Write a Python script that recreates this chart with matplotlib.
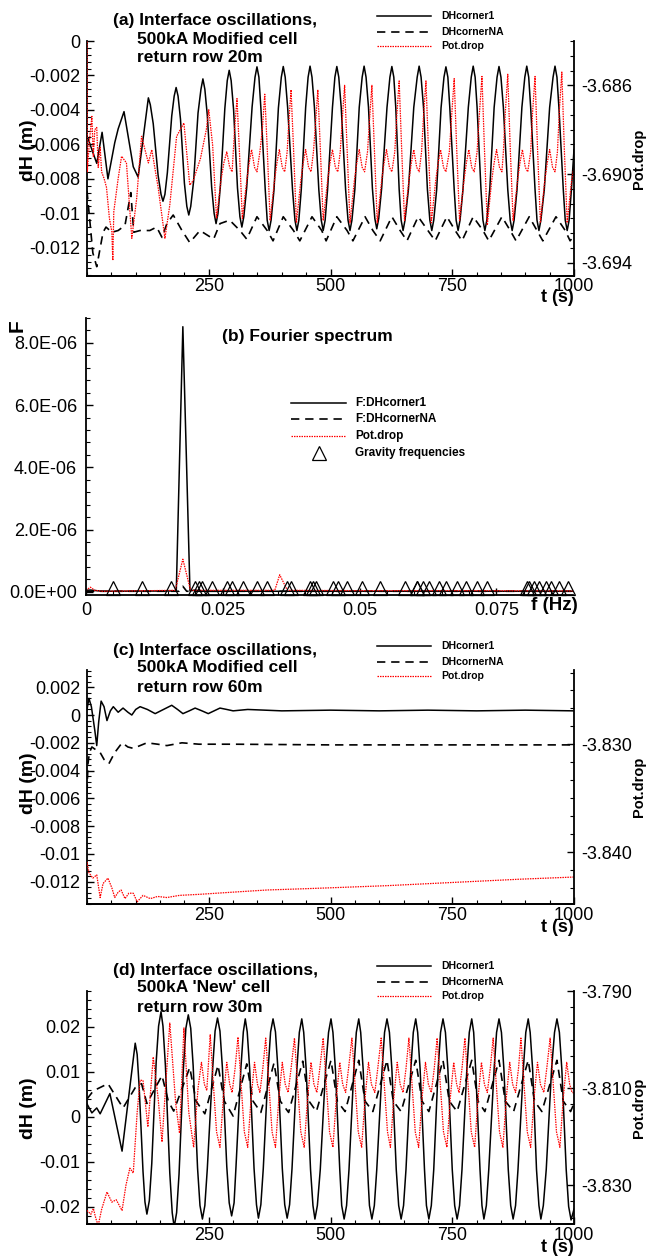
import numpy as np
import matplotlib
matplotlib.use('Agg')
import matplotlib.pyplot as plt
from matplotlib.lines import Line2D
from matplotlib.ticker import MultipleLocator, FuncFormatter

plt.rcParams['font.family'] = ['Liberation Sans', 'DejaVu Sans']

# ---- (a) return row 20m ----
a_t1 = [0, 20, 31, 43, 57, 64, 76, 95, 100, 105,
        126, 130, 136, 146, 152, 156, 160, 165, 174, 179, 183, 187, 192, 200, 205, 209,
        213, 219, 228, 234, 238, 242, 247, 256, 261, 265, 269, 274, 283, 288, 292, 296,
        301, 309, 314, 318, 322, 328, 339, 345, 349, 353, 357, 366, 370, 374, 378, 384,
        393, 399, 403, 407, 412, 422, 427, 431, 435, 440, 449, 454, 458, 462, 467, 476,
        481, 485, 489, 494, 504, 509, 513, 517, 522, 531, 536, 540, 544, 550, 559, 565,
        569, 573, 578, 586, 591, 595, 599, 605, 616, 622, 626, 630, 634, 641, 645, 649,
        653, 660, 671, 678, 682, 686, 691, 699, 704, 708, 712, 718, 727, 733, 737, 741,
        745, 754, 758, 762, 766, 772, 783, 789, 793, 797, 801, 809, 813, 817, 821, 827,
        836, 842, 846, 850, 855, 864, 869, 873, 877, 883, 893, 899, 903, 907, 911, 920,
        924, 928, 932, 939, 950, 957, 961, 965, 969, 978, 982, 986, 990, 995, 1000]
a_dh1 = [-0.0055, -0.0071, -0.0053, -0.0080, -0.0059, -0.0051, -0.0041, -0.0073, -0.0076,
         -0.0079,
         -0.0033, -0.0037, -0.0048, -0.0078, -0.0089, -0.0093, -0.0089, -0.00765, -0.00435,
         -0.0032, -0.0027, -0.0032, -0.00455, -0.00825, -0.0096, -0.0101, -0.0096, -0.00812,
         -0.00418, -0.0028, -0.0022, -0.0028, -0.0043, -0.0085, -0.0100, -0.0106, -0.0100,
         -0.00838, -0.00393, -0.0023, -0.0017, -0.0023, -0.00398, -0.00853, -0.0102, -0.0108,
         -0.0102, -0.00848, -0.00383, -0.0021, -0.0015, -0.0021, -0.00388, -0.00863, -0.0104,
         -0.0110, -0.0104, -0.00863, -0.00389, -0.0021, -0.00148, -0.0021, -0.00386, -0.00863,
         -0.0104, -0.0110, -0.0104, -0.00862, -0.00385, -0.0021, -0.00146, -0.0021, -0.00385,
         -0.00862, -0.0104, -0.0110, -0.0104, -0.00862, -0.00386, -0.0021, -0.00148, -0.0021,
         -0.00386, -0.00862, -0.0104, -0.0110, -0.0104, -0.00862, -0.00385, -0.0021, -0.00146,
         -0.0021, -0.00384, -0.00854, -0.0103, -0.0109, -0.0103, -0.00855, -0.00386, -0.0021,
         -0.00148, -0.0021, -0.00385, -0.00862, -0.0104, -0.0110, -0.0104, -0.00862, -0.00385,
         -0.0021, -0.00146, -0.0021, -0.00385, -0.00862, -0.0104, -0.0110, -0.0104, -0.00862,
         -0.00388, -0.0021, -0.0015, -0.0021, -0.00388, -0.00862, -0.0104, -0.0110, -0.0104,
         -0.00862, -0.00385, -0.0021, -0.00146, -0.0021, -0.00385, -0.00862, -0.0104, -0.0110,
         -0.0104, -0.00862, -0.00386, -0.0021, -0.00148, -0.0021, -0.00386, -0.00862, -0.0104,
         -0.0110, -0.0104, -0.00862, -0.00385, -0.0021, -0.00146, -0.0021, -0.00385, -0.00862,
         -0.0104, -0.0110, -0.0104, -0.00862, -0.00385, -0.0021, -0.00146, -0.0021, -0.00385,
         -0.00862, -0.0104, -0.0110, -0.0104, -0.0085, -0.0063]
a_t2 = [0, 12, 20, 33, 39, 51, 64, 78, 90, 96, 109, 129, 143, 154, 164, 177, 195, 211,
        232, 260, 273, 293, 314, 328, 349, 370, 382, 403, 424, 437, 462, 482, 491, 513,
        534, 546, 571, 587, 602, 626, 643, 657, 680, 700, 715, 739, 756, 770, 793, 813,
        825, 852, 869, 881, 908, 924, 936, 963, 982, 992, 1000]
a_dh2 = [-0.0087, -0.0123, -0.0131, -0.0111, -0.0108, -0.0111, -0.0110, -0.0107, -0.0088,
         -0.0111, -0.0110, -0.0110, -0.0108, -0.0114, -0.0106, -0.0101, -0.0110, -0.0117,
         -0.0110, -0.0115, -0.0106, -0.0104, -0.0110, -0.0115, -0.0102, -0.0110, -0.0116,
         -0.0102, -0.0110, -0.0116, -0.0102, -0.0110, -0.0116, -0.0102, -0.0110, -0.0116,
         -0.0102, -0.0110, -0.0116, -0.0102, -0.0110, -0.0116, -0.0102, -0.0110, -0.0116,
         -0.0102, -0.0110, -0.0116, -0.0102, -0.0110, -0.0116, -0.0102, -0.0110, -0.0116,
         -0.0102, -0.0110, -0.0116, -0.0102, -0.0110, -0.0116, -0.0113]
a_t3 = [0, 0.6, 5, 10, 13, 16, 20, 23, 27, 30, 35, 40, 46, 51, 53, 55, 64, 71, 81, 92,
        102, 112, 126, 133, 146, 160, 170, 184, 199, 211, 218, 233, 245, 250, 258, 266,
        275, 281, 287, 293, 298, 303, 308, 313, 319, 328, 333, 338, 344, 349, 355,
        360, 365, 370, 376, 385, 390, 395, 401, 406, 411,
        414, 419, 424, 430, 439, 444, 449, 455, 460, 465,
        469, 474, 479, 485, 494, 499, 504, 510, 515, 520,
        524, 529, 534, 540, 549, 554, 559, 565, 570, 576,
        580, 585, 590, 596, 605, 610, 615, 621, 626, 632,
        636, 641, 646, 652, 661, 666, 671, 677, 682, 687,
        691, 696, 701, 707, 716, 721, 726, 732, 737, 744,
        749, 754, 759, 765, 774, 779, 784, 790, 795, 801,
        806, 811, 816, 822, 831, 836, 841, 847, 852, 855,
        859, 864, 869, 875, 884, 889, 894, 900, 905, 911,
        915, 920, 925, 931, 940, 945, 950, 956, 961, 966,
        970, 975, 980, 986, 995, 1000]
a_pot = [-3.6838, -3.6899, -3.6885, -3.6874, -3.6892, -3.6880, -3.6879, -3.6897, -3.6888,
         -3.6899, -3.6902, -3.6906, -3.6920, -3.6926, -3.6939, -3.6917, -3.6902, -3.6892,
         -3.6895, -3.6929, -3.6911, -3.6883, -3.6895, -3.6889, -3.6906, -3.6929, -3.6914,
         -3.6883, -3.6877, -3.6905, -3.6903, -3.6893, -3.6880, -3.6871, -3.6887, -3.6920,
         -3.6903, -3.6895, -3.6890, -3.6897, -3.6899, -3.6880, -3.6866, -3.6890, -3.6920,
         -3.6903, -3.6895, -3.6889, -3.6897, -3.6899, -3.6890,
         -3.6880, -3.6864, -3.6888, -3.6921, -3.6903, -3.6895, -3.6889, -3.6897, -3.6899,
         -3.6890,
         -3.6878, -3.6862, -3.6888, -3.6922, -3.6903, -3.6895, -3.6889, -3.6897, -3.6899,
         -3.6890,
         -3.6878, -3.6862, -3.6888, -3.6921, -3.6903, -3.6895, -3.6889, -3.6897, -3.6899,
         -3.6890,
         -3.6876, -3.6860, -3.6888, -3.6922, -3.6903, -3.6895, -3.6889, -3.6897, -3.6899,
         -3.6890,
         -3.6876, -3.6860, -3.6888, -3.6922, -3.6903, -3.6895, -3.6889, -3.6897, -3.6899,
         -3.6890,
         -3.6874, -3.6858, -3.6888, -3.6921, -3.6903, -3.6895, -3.6889, -3.6897, -3.6899,
         -3.6890,
         -3.6874, -3.6858, -3.6888, -3.6922, -3.6903, -3.6895, -3.6889, -3.6897, -3.6899,
         -3.6890,
         -3.6873, -3.6857, -3.6888, -3.6921, -3.6903, -3.6895, -3.6889, -3.6897, -3.6899,
         -3.6890,
         -3.6872, -3.6856, -3.6888, -3.6923, -3.6903, -3.6895, -3.6889, -3.6897, -3.6899,
         -3.6890,
         -3.6872, -3.6855, -3.6888, -3.6921, -3.6903, -3.6895, -3.6889, -3.6897, -3.6899,
         -3.6890,
         -3.6872, -3.6856, -3.6888, -3.6922, -3.6903, -3.6895, -3.6889, -3.6897, -3.6899,
         -3.6890,
         -3.6871, -3.6854, -3.6888, -3.6922, -3.6903, -3.6897]

# ---- (b) Fourier spectrum ----
b_f1 = [0, 0.0008, 0.003, 0.0165, 0.0177, 0.0190, 0.020, 0.021, 0.030, 0.045, 0.060, 0.075, 0.089]
b_F1 = [5e-8, 6e-8, 2e-8, 3e-8, 8.52e-6, 3e-8, 6e-8, 2e-8, 2e-8, 2e-8, 2e-8, 2e-8, 2e-8]
b_f2 = [0, 0.0170, 0.0177, 0.0184, 0.089]
b_F2 = [2e-8, 2e-8, 1.8e-7, 2e-8, 2e-8]
b_f3 = [0, 0.0008, 0.0016, 0.003, 0.0163, 0.0177, 0.0191, 0.0345, 0.0354, 0.0368,
        0.050, 0.070, 0.089]
b_F3 = [5e-8, 1.5e-7, 5e-8, 2e-8, 5e-8, 1.05e-6, 5e-8, 5e-8, 5.5e-7, 5e-8, 4e-8, 4e-8, 3e-8]
grav_f = [0.00493, 0.01022, 0.01551, 0.01989, 0.02062, 0.02117, 0.02299, 0.02573, 0.02664,
          0.02865, 0.03120, 0.03303, 0.03668, 0.03741, 0.04088, 0.04142, 0.04197, 0.04507,
          0.04599, 0.04763, 0.05036, 0.05365, 0.05821, 0.06040, 0.06058, 0.06150, 0.06277,
          0.06460, 0.06588, 0.06788, 0.06953, 0.07153, 0.07336, 0.08066, 0.08102, 0.08193,
          0.08285, 0.08412, 0.08504, 0.08650, 0.08814]
grav_F = [1.2e-7] * len(grav_f)

# ---- (c) return row 60m ----
c_t1 = [0, 4, 9, 16, 20, 24, 29, 35, 41, 48, 54, 64, 74, 84, 92, 100, 109, 124, 140, 157,
        174, 186, 197, 210, 222, 236, 249, 261, 273, 287, 300, 330, 400, 500, 600, 700,
        800, 900, 1000]
c_dh1 = [0.0004, 0.0012, 0.0006, -0.0011, -0.0022, -0.0005, 0.0010, 0.0006, -0.0004,
         0.0003, 0.0006, 0.0002, 0.0005, 0.0002, 0.0, 0.0004, 0.0006, 0.0004, 0.0001,
         0.0004, 0.0007, 0.0004, 0.0001, 0.0003, 0.0005, 0.0003, 0.0001, 0.0003, 0.0005,
         0.0004, 0.0003, 0.0004, 0.0003, 0.00035, 0.0003, 0.00035, 0.0003, 0.00035, 0.0003]
c_t2 = [0, 2, 5, 10, 18, 27, 35, 45, 57, 72, 84, 95, 109, 123, 145, 164, 195, 230, 300,
        500, 700, 1000]
c_dh2 = [-0.0056, -0.0035, -0.0027, -0.0023, -0.0025, -0.0027, -0.0032, -0.0035, -0.0027,
         -0.0020, -0.0023, -0.0024, -0.0022, -0.0020, -0.0021, -0.0022, -0.0020, -0.0021,
         -0.0021, -0.00215, -0.00215, -0.00215]
c_t3 = [0, 4, 12, 20, 27, 33, 43, 51, 57, 64, 70, 78, 86, 95, 103, 115, 130, 145, 164,
        190, 232, 300, 370, 437, 499, 616, 752, 889, 1000]
c_pot = [-3.8409, -3.8419, -3.8424, -3.8421, -3.8442, -3.8429, -3.8424, -3.8433, -3.8442,
         -3.8437, -3.8435, -3.8443, -3.8438, -3.8438, -3.8446, -3.8440, -3.8443, -3.8441,
         -3.8442, -3.8440, -3.8439, -3.8437, -3.8435, -3.8434, -3.8433, -3.8431, -3.8428,
         -3.8425, -3.8423]

# ---- (d) 'New' cell, return row 30m ----
d_t1 = [0, 10, 20, 27, 47, 72,
        99, 103, 107, 115, 119, 123, 128, 133, 142, 147, 152, 156, 161, 170, 175, 179, 184,
        189, 198, 203, 208, 213, 218, 227, 232, 237, 242, 247, 258, 263, 268, 273, 278, 287,
        292, 297, 302, 306, 316, 321, 325, 329, 334, 343, 348, 352, 357, 362, 372, 377, 382,
        387, 392, 401, 406, 411, 416, 421, 431, 436, 441, 445, 450, 459, 464, 468, 473, 479,
        490, 496, 501, 505, 510, 519, 523, 528, 533, 538, 548, 553, 558, 562, 567, 576, 580,
        585, 590, 595, 606, 611, 616, 621, 626, 635, 640, 645, 650, 655, 665, 670, 675, 679,
        684, 693, 697, 702, 707, 712, 721, 726, 731, 736, 741, 750, 755, 760, 765, 770, 780,
        785, 790, 794, 798, 807, 811, 815, 820, 825, 836, 841, 846, 851, 856, 865, 870, 875,
        880, 885, 896, 901, 906, 910, 915, 923, 928, 932, 937, 943, 954, 960, 965, 970, 975,
        984, 989, 994, 1000]
d_dh1 = [0.0029, 0.0009, 0.0020, 0.0007, 0.0052, -0.0076,
         0.0164, 0.0139, 0.0069, -0.0121, -0.0189, -0.0216, -0.0186, -0.01035, 0.01215,
         0.0202, 0.0234, 0.0202, 0.0114, -0.0125, -0.0213, -0.0245, -0.0213, -0.0127, 0.0109,
         0.0197, 0.0227, 0.0197, 0.01135, -0.01135, -0.0197, -0.0227, -0.0197, -0.01158,
         0.01083, 0.0191, 0.0220, 0.0191, 0.0110, -0.0110, -0.0191, -0.0220, -0.0191,
         -0.01095, 0.01085, 0.0189, 0.0218, 0.0189, 0.01072, -0.01143, -0.0195, -0.0225,
         -0.0195, -0.01143, 0.01072, 0.0189, 0.0218, 0.0189, 0.01072, -0.01143, -0.0195,
         -0.0225, -0.0195, -0.01143, 0.01072, 0.0188, 0.0218, 0.0188, 0.01068, -0.01168,
         -0.0197, -0.0227, -0.0197, -0.01168, 0.01068, 0.0188, 0.0218, 0.0188, 0.01068,
         -0.01168, -0.0197, -0.0227, -0.0197, -0.01168, 0.01068, 0.0188, 0.0218, 0.0188,
         0.01068, -0.01168, -0.0197, -0.0227, -0.0197, -0.01168, 0.01068, 0.0188, 0.0218,
         0.0188, 0.01068, -0.01168, -0.0197, -0.0227, -0.0197, -0.01168, 0.01068, 0.0188,
         0.0218, 0.0188, 0.01068, -0.01168, -0.0197, -0.0227, -0.0197, -0.01168, 0.01068,
         0.0188, 0.0218, 0.0188, 0.01068, -0.01168, -0.0197, -0.0227, -0.0197, -0.01168,
         0.01068, 0.0188, 0.0218, 0.0188, 0.01068, -0.01168, -0.0197, -0.0227, -0.0197,
         -0.01168, 0.01068, 0.0188, 0.0218, 0.0188, 0.01068, -0.01168, -0.0197, -0.0227,
         -0.0197, -0.01168, 0.01068, 0.0188, 0.0218, 0.0188, 0.01068, -0.01168, -0.0197,
         -0.0227, -0.0197, -0.01168, 0.01068, 0.0188, 0.0218, 0.0188, 0.01063, -0.01173,
         -0.0199, -0.0229, -0.0205]
d_t2 = [0, 13, 43, 74, 99, 112, 123, 154, 167, 178, 211, 224, 242, 269, 282, 300, 328,
        341, 357, 384, 397, 414, 443, 456, 471, 501, 514, 530, 558, 571, 587, 616, 629,
        645, 675, 688, 702, 731, 744, 760, 790, 803, 817, 846, 859, 876, 906, 919, 934,
        965, 978, 993, 1000]
d_dh2 = [0.0040, 0.0058, 0.0074, 0.0020, 0.0065, 0.0074, 0.0030, 0.0092, 0.0035, 0.0013,
         0.0110, 0.0035, 0.0007, 0.0115, 0.0035, 0.0002, 0.0118, 0.0035, 0.0010, 0.0120,
         0.0035, 0.0010, 0.0124, 0.0035, 0.0012, 0.0126, 0.0035, 0.0012, 0.0126, 0.0035,
         0.0012, 0.0126, 0.0035, 0.0012, 0.0126, 0.0035, 0.0012, 0.0126, 0.0035, 0.0012,
         0.0126, 0.0035, 0.0012, 0.0126, 0.0035, 0.0012, 0.0126, 0.0035, 0.0012, 0.0126,
         0.0035, 0.0012, 0.0030]
d_t3 = [0, 8, 13, 18, 23, 30, 41, 51, 60, 68, 72, 80, 88, 95, 103, 109, 115, 125, 136,
        146, 154, 170, 182, 190, 199, 209, 219, 228, 235, 241, 246,
        253, 260, 266, 273, 280, 287, 293, 298, 304,
        310, 317, 323, 330, 337, 344, 350, 355, 361,
        367, 374, 380, 387, 394, 401, 407, 413, 419,
        426, 433, 439, 446, 453, 460, 466, 472, 478,
        485, 492, 498, 505, 512, 519, 525, 531, 537,
        544, 551, 557, 564, 571, 578, 584, 591, 597,
        604, 611, 617, 623, 630, 637, 643, 649, 655,
        661, 668, 674, 681, 688, 695, 701, 707, 713,
        719, 726, 732, 739, 746, 753, 759, 764, 770,
        776, 783, 789, 796, 803, 810, 816, 822, 828,
        834, 841, 847, 854, 861, 868, 874, 880, 886,
        891, 898, 904, 911, 918, 925, 931, 938, 944,
        951, 958, 964, 971, 978, 985, 991, 996, 1000]
d_pot = [-3.8352, -3.8360, -3.8348, -3.8368, -3.8383, -3.8350, -3.8314, -3.8335, -3.8330,
         -3.8345, -3.8352, -3.8300, -3.8265, -3.8275, -3.8150, -3.8084, -3.8084, -3.8180,
         -3.8036, -3.8120, -3.8211, -3.7966, -3.8130, -3.8193, -3.7976, -3.8150, -3.8222,
         -3.8100, -3.8047, -3.8092, -3.8105,
         -3.7990, -3.8100, -3.8190, -3.8222, -3.8120, -3.8047, -3.8092, -3.8109, -3.8060,
         -3.7995, -3.8100, -3.8190, -3.8222, -3.8120, -3.8047, -3.8092, -3.8109, -3.8060,
         -3.7997, -3.8100, -3.8190, -3.8222, -3.8120, -3.8047, -3.8092, -3.8109, -3.8060,
         -3.7997, -3.8100, -3.8190, -3.8222, -3.8120, -3.8047, -3.8092, -3.8109, -3.8060,
         -3.7997, -3.8100, -3.8190, -3.8222, -3.8120, -3.8047, -3.8092, -3.8109, -3.8060,
         -3.7997, -3.8100, -3.8190, -3.8222, -3.8120, -3.8047, -3.8092, -3.8109, -3.8060,
         -3.7997, -3.8100, -3.8190, -3.8222, -3.8120, -3.8047, -3.8092, -3.8109, -3.8060,
         -3.7997, -3.8100, -3.8190, -3.8222, -3.8120, -3.8047, -3.8092, -3.8109, -3.8060,
         -3.7997, -3.8100, -3.8190, -3.8222, -3.8120, -3.8047, -3.8092, -3.8109, -3.8060,
         -3.7997, -3.8100, -3.8190, -3.8222, -3.8120, -3.8047, -3.8092, -3.8109, -3.8060,
         -3.7997, -3.8100, -3.8190, -3.8222, -3.8120, -3.8047, -3.8092, -3.8109, -3.8060,
         -3.7997, -3.8100, -3.8190, -3.8222, -3.8120, -3.8047, -3.8092, -3.8109, -3.8060,
         -3.7997, -3.8100, -3.8190, -3.8222, -3.8120, -3.8047, -3.8092, -3.8109, -3.8110]

W, H = 647, 1257
fig = plt.figure(figsize=(W / 100, H / 100), dpi=100)

SOLID = dict(color='black', lw=1.1, ls='-')
DASH = dict(color='black', lw=1.2, ls=(0, (5, 3.5)))
DOT = dict(color='red', lw=0.9, ls=(0, (1.2, 0.8)))


def px_box(l, t, r, b):
    return [l / W, 1 - b / H, (r - l) / W, (b - t) / H]


def fx(x):
    return x / W


def fy(y):
    return 1 - y / H


def style_ticks(a, pad_x, pad_y):
    a.tick_params(which='both', direction='in', labelsize=13, width=1)
    a.tick_params(which='major', length=5)
    a.tick_params(which='minor', length=3, width=0.8)
    a.tick_params(axis='x', pad=pad_x)
    a.tick_params(axis='y', pad=pad_y)
    for s in a.spines.values():
        s.set_linewidth(1.3)


def title3(y1, y2, y3, l1, l2, l3):
    fig.text(fx(113), fy(y1), l1, ha='left', va='center', fontsize=12.5, fontweight='bold')
    fig.text(fx(137), fy(y2), l2, ha='left', va='center', fontsize=12.5, fontweight='bold')
    fig.text(fx(137), fy(y3), l3, ha='left', va='center', fontsize=12.5, fontweight='bold')


def legend_rows(x0, x1, xt, ys, styles, labels, size=7.5):
    for y, st, lab in zip(ys, styles, labels):
        if st.get('marker'):
            fig.add_artist(Line2D([fx((x0 + x1) / 2)], [fy(y)], transform=fig.transFigure, **st))
        else:
            fig.add_artist(Line2D([fx(x0), fx(x1)], [fy(y), fy(y)], transform=fig.transFigure, **st))
        fig.text(fx(xt), fy(y), lab, ha='left', va='center', fontsize=size, fontweight='bold')


def time_panel(box, t1, v1, t2, v2, t3, v3, ylim, yticks, ylim2, yticks2, ystep2,
               ymin_step, ylab_y, xpad):
    ax = fig.add_axes(px_box(*box))
    ax.plot(t1, v1, **SOLID)
    ax.plot(t2, v2, **DASH)
    ax.set_xlim(0, 1000)
    ax.set_ylim(*ylim)
    ax.set_xticks([250, 500, 750, 1000])
    ax.xaxis.set_minor_locator(MultipleLocator(50))
    ax.set_yticks(yticks)
    ax.yaxis.set_minor_locator(MultipleLocator(ymin_step))
    ax.yaxis.set_major_formatter(FuncFormatter(lambda v, p: '%g' % round(v, 6)))
    ax.spines['top'].set_visible(False)
    ax.spines['right'].set_visible(False)
    style_ticks(ax, xpad, 5)
    ax.set_ylabel('dH (m)', fontsize=14, fontweight='bold')
    ax.yaxis.set_label_coords(-0.103, ylab_y)

    ax2 = ax.twinx()
    ax2.plot(t3, v3, **DOT)
    ax2.set_ylim(*ylim2)
    ax2.set_yticks(yticks2)
    ax2.yaxis.set_minor_locator(MultipleLocator(ystep2))
    ax2.yaxis.set_major_formatter(FuncFormatter(lambda v, p: '%.3f' % v))
    ax2.spines['top'].set_visible(False)
    ax2.spines['left'].set_visible(False)
    style_ticks(ax2, xpad, 5)
    ax2.set_ylabel('Pot.drop', fontsize=10.5, fontweight='bold')
    ax2.yaxis.set_label_coords(1.119, 0.5)
    return ax, ax2


LAB3 = ['DHcorner1', 'DHcornerNA', 'Pot.drop']

# (a)
time_panel((87, 41, 574, 276), a_t1, a_dh1, a_t2, a_dh2, a_t3, a_pot,
           (-0.01364, 0.0), [0, -0.002, -0.004, -0.006, -0.008, -0.01, -0.012],
           (-3.6946, -3.6840), [-3.686, -3.690, -3.694], 0.004 / 6, 0.0004, 0.536, 1.5)
title3(21, 39, 57, '(a) Interface oscillations,', '500kA Modified cell', 'return row 20m')
legend_rows(377, 431, 441, [16, 32, 46], [SOLID, DASH, DOT], LAB3)
fig.text(fx(557), fy(298), 't (s)', ha='center', va='center', fontsize=13, fontweight='bold')

# (b)
axb = fig.add_axes(px_box(86, 318, 573, 595))
axb.plot(b_f1, b_F1, **SOLID)
axb.plot(b_f2, b_F2, **DASH)
axb.plot(b_f3, b_F3, **DOT)
axb.plot(grav_f, grav_F, ls='none', marker='^', ms=9.5, mfc='none', mec='black', mew=0.9,
         clip_on=False)
axb.set_xlim(0, 0.089)
axb.set_ylim(-1e-7, 8.8e-6)
axb.set_xticks([0, 0.025, 0.05, 0.075])
axb.xaxis.set_minor_locator(MultipleLocator(0.005))
axb.xaxis.set_major_formatter(FuncFormatter(lambda v, p: '%g' % round(v, 6)))
axb.set_yticks([0, 2e-6, 4e-6, 6e-6, 8e-6])
axb.yaxis.set_minor_locator(MultipleLocator(4e-7))
axb.yaxis.set_major_formatter(FuncFormatter(lambda v, p: '%.1E' % v))
axb.spines['top'].set_visible(False)
axb.spines['right'].set_visible(False)
style_ticks(axb, 5, 6.5)
fig.text(fx(222), fy(337), '(b) Fourier spectrum', ha='left', va='center', fontsize=12.5,
         fontweight='bold')
fig.text(fx(17), fy(326), 'F', rotation=90, ha='center', va='center', fontsize=15,
         fontweight='bold')
fig.text(fx(554), fy(606), 'f (Hz)', ha='center', va='center', fontsize=13.5, fontweight='bold')
TRI = dict(marker='^', ms=9.5, mfc='none', mec='black', mew=0.9, ls='none')
legend_rows(291, 346, 355, [403, 419, 436, 453], [SOLID, DASH, DOT, TRI],
            ['F:DHcorner1', 'F:DHcornerNA', 'Pot.drop', 'Gravity frequencies'], size=8.5)

# (c)
time_panel((87, 670, 574, 904), c_t1, c_dh1, c_t2, c_dh2, c_t3, c_pot,
           (-0.0136, 0.00324), [0.002, 0, -0.002, -0.004, -0.006, -0.008, -0.01, -0.012],
           (-3.8448, -3.8231), [-3.830, -3.840], 0.01 / 6, 0.0004, 0.517, 2.5)
title3(650, 668, 687, '(c) Interface oscillations,', '500kA Modified cell', 'return row 60m')
legend_rows(377, 431, 441, [646, 662, 676], [SOLID, DASH, DOT], LAB3)
fig.text(fx(557), fy(927), 't (s)', ha='center', va='center', fontsize=13, fontweight='bold')

# (d)
time_panel((87, 991, 574, 1224), d_t1, d_dh1, d_t2, d_dh2, d_t3, d_pot,
           (-0.0238, 0.028), [0.02, 0.01, 0, -0.01, -0.02],
           (-3.838, -3.790), [-3.790, -3.810, -3.830], 0.02 / 6, 0.002, 0.498, 2.5)
title3(971, 988, 1007, "(d) Interface oscillations,", "500kA 'New' cell", 'return row 30m')
legend_rows(377, 431, 441, [966, 982, 996], [SOLID, DASH, DOT], LAB3)
fig.text(fx(557), fy(1248), 't (s)', ha='center', va='center', fontsize=13, fontweight='bold')

fig.savefig('out.png', dpi=100)
